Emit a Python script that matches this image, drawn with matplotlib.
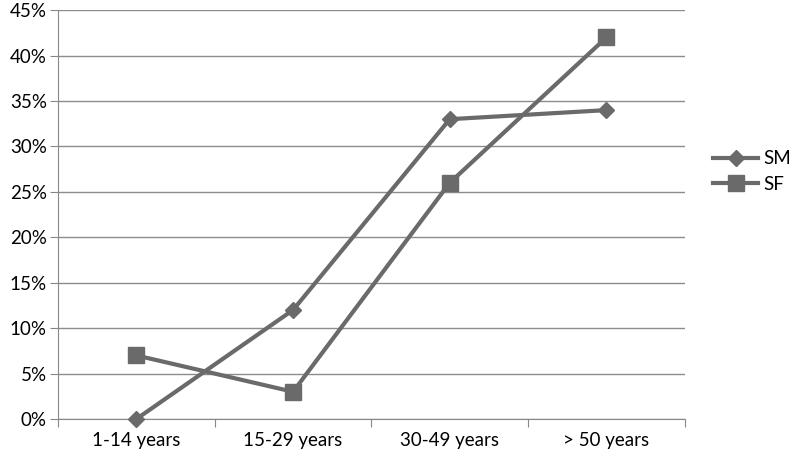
import matplotlib
matplotlib.use('Agg')
import matplotlib.pyplot as plt
import matplotlib.ticker as ticker

categories = ['1-14 years', '15-29 years', '30-49 years', '> 50 years']
sm = [0, 12, 33, 34]
sf = [7, 3, 26, 42]

plt.rcParams['font.family'] = ['Lato', 'DejaVu Sans']

fig = plt.figure(figsize=(8, 4.62), dpi=100)
ax = fig.add_axes([0.0725, 0.093, 0.7835, 0.885])

x = [i + 0.5 for i in range(len(categories))]
col = '#6a6a6a'
ax.plot(x, sm, color=col, lw=3, marker='D', markersize=8, label='SM', clip_on=False, zorder=3)
ax.plot(x, sf, color=col, lw=3, marker='s', markersize=12, label='SF', clip_on=False, zorder=3)

ax.set_xlim(0, 4)
ax.set_ylim(0, 45)
ax.set_yticks(range(0, 46, 5))
ax.yaxis.set_major_formatter(ticker.FuncFormatter(lambda v, p: f'{int(v)}%'))
ax.set_xticks([0, 1, 2, 3, 4])
ax.set_xticklabels([])
ax.set_xticks(x, minor=True)
ax.set_xticklabels(categories, minor=True)
ax.tick_params(axis='x', which='minor', length=0, pad=9, labelsize=13.5)
ax.tick_params(axis='x', which='major', length=6, color='#888888')
ax.tick_params(axis='y', length=6, color='#888888', labelsize=13.5, pad=2)
ax.grid(axis='y', color='#8c8c8c', lw=1)
ax.set_axisbelow(True)
for s in ['top', 'right']:
    ax.spines[s].set_visible(False)
for s in ['left', 'bottom']:
    ax.spines[s].set_color('#888888')

ax.legend(loc='center left', bbox_to_anchor=(1.045, 0.605), frameon=False,
          fontsize=13.5, handlelength=2.4, handletextpad=0.3, labelspacing=0.45,
          borderpad=0, borderaxespad=0)

fig.savefig('out.png', dpi=100)
